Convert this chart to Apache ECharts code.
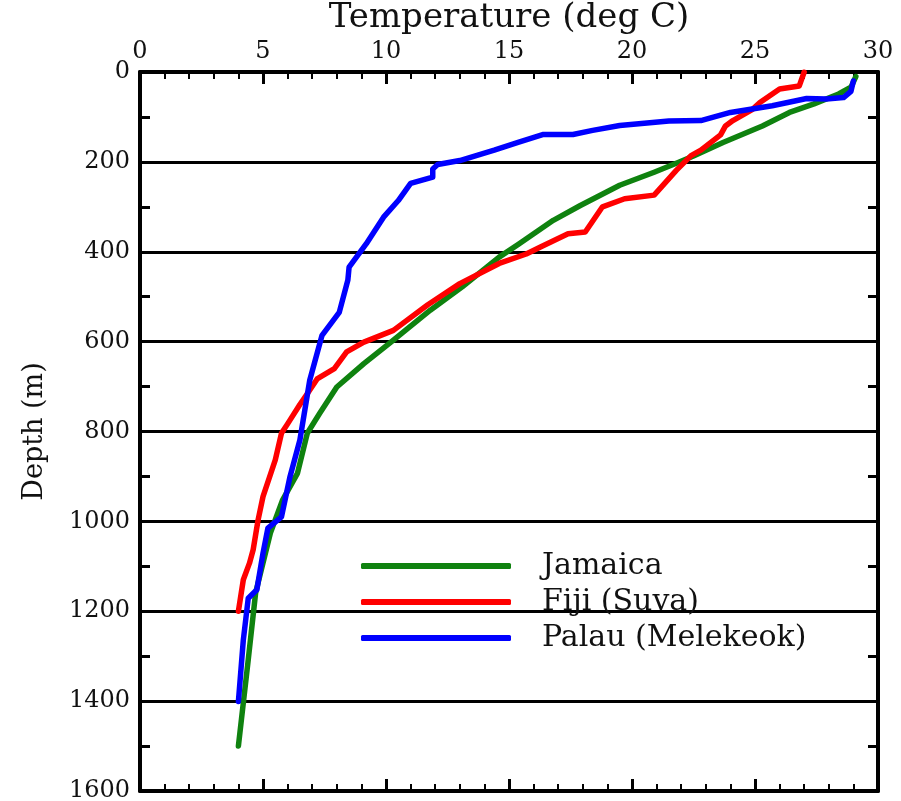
<!DOCTYPE html>
<html>
<head>
<meta charset="utf-8">
<script src="https://cdn.jsdelivr.net/npm/echarts@6/dist/echarts.min.js"></script>
<style>
html,body{margin:0;padding:0;background:#fff;}
#chart{width:901px;height:801px;}
</style>
</head>
<body>
<div id="chart"></div>
<script>
// [temperature (deg C), depth (m)]
var jamaica = [[29.1,10],[28.9,34],[28.4,49],[27.4,71],[26.4,90],[25.3,120],[23.7,157],[22.5,187],[21.9,201],[20.9,223],[19.5,252],[17.9,297],[16.8,330],[15.4,383],[14.6,412],[13.1,478],[11.8,530],[10.2,601],[9.1,649],[8.0,701],[7.3,760],[6.8,804],[6.4,893],[5.8,952],[5.3,1026],[4.7,1159],[4.4,1308],[4.0,1500]];
var fiji = [[27.0,0],[26.8,31],[26.0,38],[25.2,68],[24.9,83],[24.1,108],[23.8,120],[23.6,140],[22.8,174],[22.4,186],[21.8,219],[20.9,274],[19.7,282],[18.8,300],[18.1,356],[17.4,360],[16.3,389],[15.7,405],[14.6,426],[13.0,471],[11.7,518],[10.3,575],[9.1,601],[8.4,623],[7.9,660],[7.2,683],[6.8,716],[6.5,740],[6.0,783],[5.75,804],[5.5,863],[5.0,945],[4.8,997],[4.6,1063],[4.45,1093],[4.2,1130],[4.0,1200]];
var palau = [[29.0,20],[28.9,43],[28.6,57],[27.9,60],[27.1,59],[25.7,75],[24.0,90],[22.8,108],[21.5,109],[19.5,119],[18.4,130],[17.6,139],[16.4,139],[15.4,156],[14.4,174],[13.0,197],[12.1,206],[11.9,216],[11.9,234],[11.0,248],[10.5,286],[9.9,323],[9.2,382],[8.5,434],[8.45,463],[8.1,535],[7.4,586],[6.9,686],[6.5,819],[6.1,900],[5.75,990],[5.2,1015],[5.0,1071],[4.75,1152],[4.4,1171],[4.2,1264],[4.0,1401]];
var seriesNames = ['Jamaica','Fiji (Suva)','Palau (Melekeok)'];
var seriesColors = ['#0f820f','#ff0000','#0000ff'];
var xTitle = 'Temperature (deg C)';
var yTitle = 'Depth (m)';

var font = 'DejaVu Serif';
var chart = echarts.init(document.getElementById('chart'), null, {renderer:'canvas'});
var axisLine = {show:true, onZero:false, lineStyle:{color:'#000', width:4}};
function plain(v){ return String(v); }
function xAxisCfg(pos, labels){
  return {
    type:'value', position:pos, min:0, max:30, interval:5,
    name: labels ? xTitle : '', nameLocation:'middle', nameGap:30,
    nameTextStyle:{fontFamily:font, fontSize:34, color:'#111'},
    axisLine:axisLine,
    axisTick:{show:true, inside:true, length:12, lineStyle:{color:'#000', width:3}},
    minorTick:{show:true, splitNumber:5, length:7, lineStyle:{color:'#000', width:2}},
    axisLabel:{show:labels, fontFamily:font, fontSize:24, color:'#111', margin:8, formatter:plain},
    splitLine:{show:false}
  };
}
function yAxisCfg(pos, labels){
  return {
    type:'value', position:pos, inverse:true, min:0, max:1600, interval:200,
    name: labels ? yTitle : '', nameLocation:'middle', nameGap:92,
    nameTextStyle:{fontFamily:font, fontSize:27, color:'#111'},
    axisLine:axisLine,
    axisTick:{show:true, inside:true, length:10, lineStyle:{color:'#000', width:3}},
    minorTick:{show:true, splitNumber:2, length:10, lineStyle:{color:'#000', width:3}},
    axisLabel:{show:labels, fontFamily:font, fontSize:24, color:'#111', margin:10, formatter:plain},
    splitLine:{show:labels, lineStyle:{color:'#000', width:3}}
  };
}
var datas = [jamaica, fiji, palau];
chart.setOption({
  animation:false,
  backgroundColor:'#fff',
  grid:{left:140, right:23, top:72, bottom:10, outerBoundsMode:'none', containLabel:false},
  xAxis:[xAxisCfg('top', true), xAxisCfg('bottom', false)],
  yAxis:[yAxisCfg('left', true), yAxisCfg('right', false)],
  legend:{
    orient:'vertical', left:356, top:546, icon:'roundRect',
    itemWidth:150, itemHeight:6, itemGap:6,
    data:seriesNames,
    textStyle:{fontFamily:font, fontSize:30, color:'#111', lineHeight:30, padding:[0,0,0,26]}
  },
  series: seriesNames.map(function(n,i){
    return {
      name:n, type:'line', xAxisIndex:0, yAxisIndex:0, data:datas[i],
      symbol:'none', color:seriesColors[i],
      lineStyle:{color:seriesColors[i], width:5.5, cap:'round', join:'round'},
      z:3+i
    };
  })
});
</script>
</body>
</html>
